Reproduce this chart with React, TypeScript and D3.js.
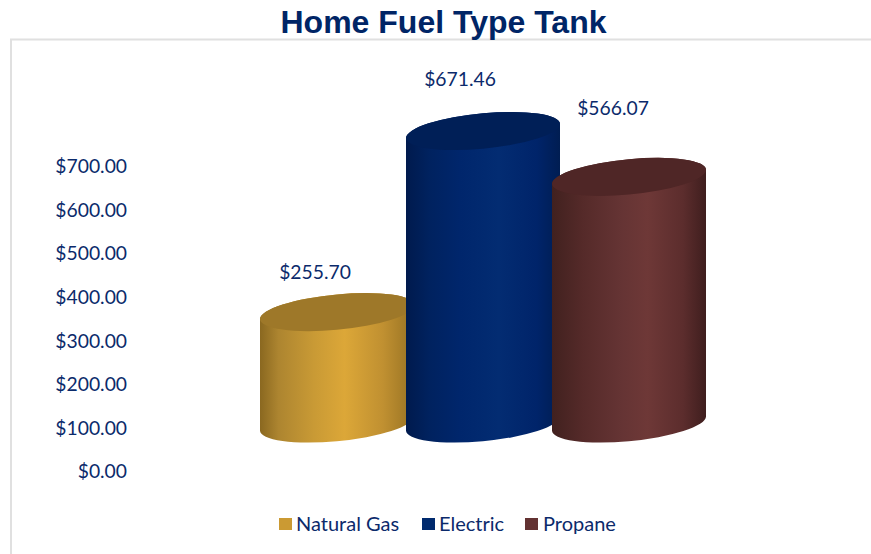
import React from "react";
import * as d3 from "d3";

const title = "Home Fuel Type Tank";
const categories = ["Natural Gas", "Electric", "Propane"];
const values = [255.7, 671.46, 566.07];
const valueLabels = ["$255.70", "$671.46", "$566.07"];
const tickValues = [0, 100, 200, 300, 400, 500, 600, 700];

const navy = "#0b2a6b";
const fonts = "Lato, Carlito, sans-serif";
const legendSwatch = ["#cb9a33", "#002a6e", "#633232"];
const topFill = ["#9e7829", "#001f57", "#4f2626"];
const sideStops: [number, string][][] = [
  [[0, "#8a6820"], [0.12, "#ad8530"], [0.35, "#c99a35"], [0.55, "#dca738"], [0.8, "#c09031"], [1, "#977223"]],
  [[0, "#001a4d"], [0.15, "#00225f"], [0.35, "#00266c"], [0.6, "#032c72"], [0.85, "#00246a"], [1, "#001d52"]],
  [[0, "#41211f"], [0.2, "#552a29"], [0.45, "#653434"], [0.62, "#6e3837"], [0.85, "#5c2d2d"], [1, "#3f1e1e"]],
];
const labelOffset = [[-22, -40], [-23, -52], [-16, -69]];
const legendX = [279, 422, 525];

const W = 871;
const H = 554;
const y = d3.scaleLinear().domain([0, 700]).range([471.5, 166.5]);
const x = d3.scalePoint<string>().domain(categories).range([337, 629]);
const depth = 48;
const a = 77.3;
const b = 17.6;
const rot = -5.5;
const halfW = 77;
const skew = 7;

function ellipse(cx: number, cy: number) {
  return `M${cx - halfW},${cy + skew}A${a},${b} ${rot} 1 1 ${cx + halfW},${cy - skew}A${a},${b} ${rot} 1 1 ${cx - halfW},${cy + skew}Z`;
}
function side(cx: number, top: number, base: number) {
  return `M${cx - halfW},${top + skew}L${cx - halfW},${base + skew}A${a},${b} ${rot} 1 0 ${cx + halfW},${base - skew}L${cx + halfW},${top - skew}A${a},${b} ${rot} 1 0 ${cx - halfW},${top + skew}Z`;
}

export default function App() {
  return (
    <svg width={W} height={H} viewBox={`0 0 ${W} ${H}`} style={{ position: "fixed", left: 0, top: 0, background: "#fff" }}>
      <defs>
        {sideStops.map((stops, i) => (
          <linearGradient key={i} id={`side${i}`} x1="0" x2="1" y1="0" y2="0">
            {stops.map(([o, c]) => <stop key={o} offset={o} stopColor={c} />)}
          </linearGradient>
        ))}
      </defs>
      <path d={`M11,${H}V39.5H${W}`} fill="none" stroke="#e0e0e0" strokeWidth={2} />
      <text x={443.5} y={33} textAnchor="middle" fontFamily="'Liberation Sans', Arial, sans-serif" fontWeight={700} fontSize={32} fill="#002566">{title}</text>
      {tickValues.map((t) => (
        <text key={t} x={127} y={y(t)} dy="0.35em" textAnchor="end" fontFamily={fonts} fontSize={19.3} fill={navy}>{d3.format("$.2f")(t)}</text>
      ))}
      {categories.map((c, i) => {
        const cx = x(c)!;
        const top = y(values[i]) - depth;
        const base = y(0) - depth;
        return (
          <g key={c}>
            <path d={side(cx, top, base)} fill={`url(#side${i})`} />
            <path d={ellipse(cx, top)} fill={topFill[i]} />
          </g>
        );
      })}
      {categories.map((c, i) => (
        <text key={c} x={x(c)! + labelOffset[i][0]} y={y(values[i]) - depth + labelOffset[i][1]} dy="0.35em" textAnchor="middle" fontFamily={fonts} fontSize={19.3} fill={navy}>{valueLabels[i]}</text>
      ))}
      {categories.map((c, i) => (
        <g key={c} transform={`translate(${legendX[i]},518)`}>
          <rect width={13} height={12} fill={legendSwatch[i]} />
          <text x={i === 2 ? 18 : 17} y={6} dy="0.35em" fontFamily={fonts} fontSize={20} fill={navy}>{c}</text>
        </g>
      ))}
    </svg>
  );
}
